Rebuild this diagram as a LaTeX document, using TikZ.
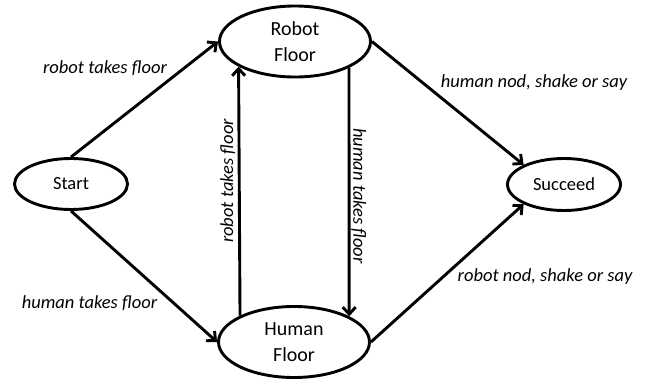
\documentclass[tikz,border=0pt]{standalone}
\usepackage{fontspec}
\setmainfont{Carlito}
\usetikzlibrary{shapes.geometric,arrows.meta}
\begin{document}
\begin{tikzpicture}[x=1pt,y=1pt,
  state/.style={ellipse,draw,line width=2.9pt,inner sep=0pt,align=center},
  conn/.style={line width=2.9pt,-{Straight Barb[length=7pt,width=13pt]}},
  lbl/.style={font=\fontsize{18.5}{22}\selectfont\itshape,inner sep=0pt,anchor=base}]
\useasboundingbox (0,0) rectangle (649,384);
\node[state,minimum width=151,minimum height=71,font=\fontsize{20}{25.5}\selectfont] (robot) at (295,342.5) {Robot\\Floor};
\node[state,minimum width=151,minimum height=71,font=\fontsize{20}{25.5}\selectfont] (human) at (294,42) {Human\\Floor};
\node[state,minimum width=113,minimum height=51,font=\fontsize{18.5}{22}\selectfont] (start) at (71,200) {Start};
\node[state,minimum width=113,minimum height=52,font=\fontsize{18.5}{22}\selectfont] (succeed) at (564,199.5) {Succeed};
\draw[conn] (start.north) -- (robot.west);
\draw[conn] (start.south) -- (human.west);
\draw[conn] (human.154.7) -- (robot.204.7);
\draw[conn] (robot.-26.3) -- (human.25.3);
\draw[conn] (robot.east) -- (succeed.154);
\draw[conn] (human.east) -- (succeed.206);
\node[lbl] (l1) at (105,311) {robot takes floor};
\node[lbl] (l2) at (89.5,76) {human takes floor};
\node[lbl,rotate=90] (l3) at (233,203) {robot takes floor};
\node[lbl,rotate=-90] (l4) at (353.3,188) {human takes floor};
\node[lbl] (l5) at (534,297) {human nod, shake or say};
\node[lbl] (l6) at (545,103) {robot nod, shake or say};
\end{tikzpicture}
\end{document}
